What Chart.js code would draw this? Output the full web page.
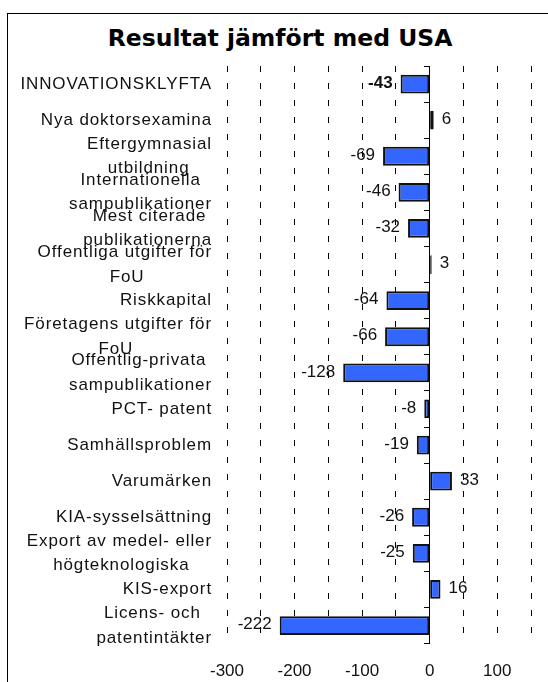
<!DOCTYPE html>
<html>
<head>
<meta charset="utf-8">
<script src="https://cdn.jsdelivr.net/npm/chart.js@4.4.1/dist/chart.umd.min.js"></script>
<style>
  html, body { margin: 0; padding: 0; overflow: hidden; background: #fff; }
  #frame { position: absolute; left: 7px; top: 13px; width: 700px; height: 800px; border: 1px solid #000; }
  #title { position: absolute; left: 0; top: 24px; width: 560px; text-align: center;
           font: bold 23.5px/28px "DejaVu Sans"; color: #000; }
  #wrap { position: absolute; left: 0; top: 0; width: 560px; height: 702px; }
</style>
</head>
<body>
<div id="frame"></div>
<div id="title">Resultat jämfört med USA</div>
<div id="wrap"><canvas id="chart" width="560" height="702"></canvas></div>
<script>
const categories = [
  'INNOVATIONSKLYFTA',
  'Nya doktorsexamina',
  ['Eftergymnasial', 'utbildning'],
  ['Internationella', 'sampublikationer'],
  ['Mest citerade', 'publikationerna'],
  ['Offentliga utgifter för', 'FoU'],
  'Riskkapital',
  ['Företagens utgifter för', 'FoU'],
  ['Offentlig-privata', 'sampublikationer'],
  'PCT- patent',
  'Samhällsproblem',
  'Varumärken',
  'KIA-sysselsättning',
  ['Export av medel- eller', 'högteknologiska'],
  'KIS-export',
  ['Licens- och', 'patentintäkter']
];
const values = [-43, 6, -69, -46, -32, 3, -64, -66, -128, -8, -19, 33, -26, -25, 16, -222];
const xTickLabels = [-300, -200, -100, 0, 100];

const labelFont = '17px "Liberation Sans"';
const labelSpacing = '0.9px';

// second lines of wrapped labels sit centred under the first line
function centerLines(label) {
  if (!Array.isArray(label)) return label;
  const c = document.createElement('canvas').getContext('2d');
  c.font = labelFont;
  c.letterSpacing = labelSpacing;
  const widths = label.map(t => c.measureText(t).width);
  const maxW = Math.max(...widths);
  const sp = c.measureText('\u00A0').width;
  return label.map((t, i) => t + '\u00A0'.repeat(Math.round((maxW - widths[i]) / 2 / sp)));
}

const valueLabels = {
  id: 'valueLabels',
  afterDatasetsDraw(chart) {
    const ctx = chart.ctx;
    const meta = chart.getDatasetMeta(0);
    ctx.save();
    ctx.fillStyle = '#111';
    ctx.textBaseline = 'middle';
    meta.data.forEach((bar, i) => {
      const v = values[i];
      ctx.font = (i === 0 ? 'bold ' : '') + labelFont;
      ctx.textAlign = v < 0 ? 'right' : 'left';
      ctx.fillText(String(v), v < 0 ? bar.x - 8 : bar.x + 8, bar.y - 1);
    });
    ctx.restore();
  }
};

// category labels are drawn after the bars (ticks.z = 1) with a little tracking
const spacedLabels = {
  id: 'spacedLabels',
  afterDatasetsDraw(chart) { chart.ctx.letterSpacing = labelSpacing; },
  afterDraw(chart) { chart.ctx.letterSpacing = '0px'; }
};

new Chart(document.getElementById('chart'), {
  type: 'bar',
  data: {
    labels: categories.map(centerLines),
    datasets: [{
      data: values,
      yAxisID: 'y',
      backgroundColor: '#3366FF',
      borderColor: '#111',
      borderWidth: 2,
      borderSkipped: false,
      barPercentage: 0.52,
      categoryPercentage: 1
    }]
  },
  options: {
    indexAxis: 'y',
    responsive: false,
    animation: false,
    layout: { padding: { top: 66, right: 29, bottom: 2, left: 0 } },
    plugins: {
      legend: { display: false },
      tooltip: { enabled: false },
      title: { display: false }
    },
    scales: {
      x: {
        min: -300,
        max: 150,
        grid: {
          color: '#000',
          lineWidth: 1,
          drawTicks: false,
          borderDash: [6, 11]
        },
        border: { display: false, dash: [6, 11] },
        ticks: {
          stepSize: 50,
          autoSkip: false,
          maxRotation: 0,
          padding: 18,
          color: '#111',
          font: { family: 'Liberation Sans', size: 17 },
          callback: (value) => xTickLabels.includes(value) ? String(value) : ''
        }
      },
      y: {
        position: 'left',
        offset: true,
        grid: { display: false, drawTicks: false },
        border: { display: false },
        ticks: {
          z: 1,
          padding: 15,
          color: '#111',
          autoSkip: false,
          font: { family: 'Liberation Sans', size: 17, lineHeight: 1.45 }
        },
        afterFit: (scale) => {
          scale.width = 227;
          scale.paddingTop = 0;
          scale.paddingBottom = 0;
        }
      },
      y2: {
        type: 'category',
        axis: 'y',
        position: { x: 0 },
        offset: true,
        grid: {
          offset: true,
          drawOnChartArea: false,
          drawTicks: true,
          tickLength: 5,
          color: '#000'
        },
        border: { display: true, color: '#000', width: 1 },
        ticks: { display: false }
      }
    }
  },
  plugins: [valueLabels, spacedLabels]
});
</script>
</body>
</html>
